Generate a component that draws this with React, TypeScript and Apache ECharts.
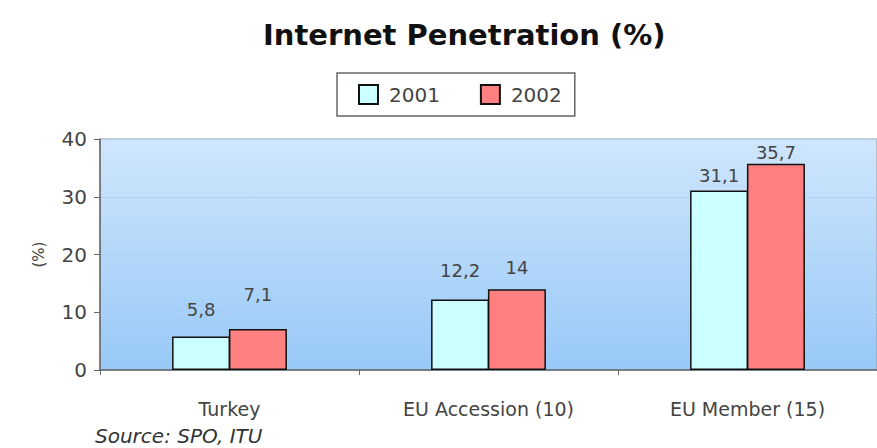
import React, { useEffect, useRef } from "react";
import * as echarts from "echarts";

const categories = ["Turkey", "EU Accession (10)", "EU Member (15)"];
const seriesNames = ["2001", "2002"];
const values2001 = [5.8, 12.2, 31.1];
const values2002 = [7.1, 14, 35.7];
const yTicks = [0, 10, 20, 30, 40];

const FONT = "'DejaVu Sans', sans-serif";

export default function App() {
  const ref = useRef<HTMLDivElement>(null);
  useEffect(() => {
    if (!ref.current) return;
    const chart = echarts.init(ref.current, null, { renderer: "svg" });
    const lift2001 = [18, 20, 6];
    const lift2002 = [25, 13, 2];
    const fmt = (p: any) => String(p.value).replace(".", ",");
    const mk = (vals: number[], lifts: number[]) =>
      vals.map((v, i) => ({ value: v, label: { distance: lifts[i] } }));
    chart.setOption({
      animation: false,
      backgroundColor: "#ffffff",
      textStyle: { fontFamily: FONT },
      title: {
        text: "Internet Penetration (%)",
        left: 258,
        top: 15,
        textStyle: { fontFamily: FONT, fontSize: 29, fontWeight: "bold", color: "#111" },
      },
      legend: {
        data: seriesNames,
        top: 73,
        left: 337,
        padding: [11, 13, 11, 21],
        borderColor: "#666",
        borderWidth: 1.5,
        itemWidth: 19,
        itemHeight: 19,
        itemGap: 40,
        icon: "rect",
        textStyle: { fontFamily: FONT, fontSize: 20, color: "#444", padding: [0, 0, 0, 6] },
      },
      grid: {
        left: 100,
        right: -9,
        top: 139,
        bottom: 78,
        show: true,
        borderColor: "#9a9a9a",
        borderWidth: 1,
        backgroundColor: new echarts.graphic.LinearGradient(0, 0, 0, 1, [
          { offset: 0, color: "#cfe6fd" },
          { offset: 1, color: "#98c9f7" },
        ]),
      },
      xAxis: {
        type: "category",
        data: categories,
        axisLine: { lineStyle: { color: "#666", width: 1.5 } },
        axisTick: { show: true, length: 5, lineStyle: { color: "#666" } },
        axisLabel: { fontFamily: FONT, fontSize: 19, color: "#444", margin: 29 },
      },
      yAxis: {
        type: "value",
        min: yTicks[0],
        max: yTicks[yTicks.length - 1],
        interval: 10,
        name: "(%)",
        nameLocation: "middle",
        nameRotate: 90,
        nameGap: 54,
        nameTextStyle: { fontFamily: FONT, fontSize: 15, color: "#444" },
        axisLine: { show: true, lineStyle: { color: "#666", width: 1.5 } },
        axisTick: { show: true, length: 6, lineStyle: { color: "#666" } },
        axisLabel: { fontFamily: FONT, fontSize: 20, color: "#444", margin: 13 },
        splitLine: { show: true, lineStyle: { color: "#a9d0f7", width: 1.2 } },
      },
      series: [
        {
          name: seriesNames[0],
          type: "bar",
          data: mk(values2001, lift2001),
          barWidth: 58,
          barGap: "-2%",
          itemStyle: { color: "#ccffff", borderColor: "#111", borderWidth: 1.5 },
          label: { show: true, position: "top", formatter: fmt, fontFamily: FONT, fontSize: 18, color: "#444" },
        },
        {
          name: seriesNames[1],
          type: "bar",
          data: mk(values2002, lift2002),
          barWidth: 58,
          barGap: "-2%",
          itemStyle: { color: "#ff8080", borderColor: "#111", borderWidth: 1.5 },
          label: { show: true, position: "top", formatter: fmt, fontFamily: FONT, fontSize: 18, color: "#444" },
        },
      ],
      graphic: [
        {
          type: "text",
          left: 95,
          top: 426,
          style: {
            text: "Source: SPO, ITU",
            font: `italic 20px ${FONT}`,
            fill: "#333",
          },
        },
      ],
    });
    return () => chart.dispose();
  }, []);
  return (
    <div
      ref={ref}
      style={{ position: "absolute", left: 0, top: 0, width: 877, height: 448 }}
    />
  );
}
